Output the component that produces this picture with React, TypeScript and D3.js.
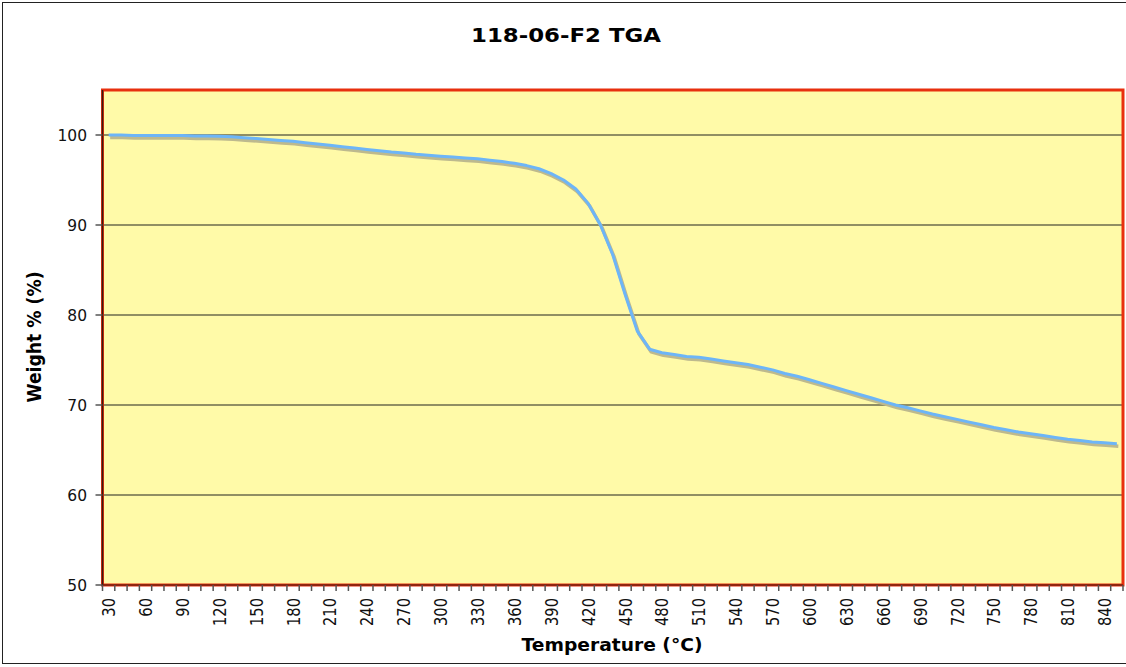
import React, { useEffect, useRef } from 'react';
import * as d3 from 'd3';

// temperature categories (°C), one point every 10 degrees
const temps = d3.range(30, 851, 10);

// weight %, one per temperature
const weights = [
  100.0, 100.0, 99.95, 99.95, 99.95, 99.95, 99.95, 99.9, 99.9, 99.85,
  99.8, 99.7, 99.6, 99.5, 99.4, 99.3, 99.15, 99.0, 98.85, 98.7,
  98.55, 98.4, 98.25, 98.1, 98.0, 97.85, 97.75, 97.65, 97.55, 97.45,
  97.35, 97.2, 97.05, 96.85, 96.6, 96.25, 95.7, 95.0, 94.0, 92.4,
  90.0, 86.7, 82.3, 78.2, 76.2, 75.8, 75.6, 75.4, 75.3, 75.1,
  74.9, 74.7, 74.5, 74.2, 73.9, 73.5, 73.2, 72.8, 72.4, 72.0,
  71.6, 71.2, 70.8, 70.4, 70.0, 69.7, 69.35, 69.0, 68.7, 68.4,
  68.1, 67.8, 67.5, 67.25, 67.0, 66.8, 66.6, 66.4, 66.2, 66.05,
  65.9, 65.8, 65.7,
];

const xTickLabels = [
  '30', '60', '90', '120', '150', '180', '210', '240', '270', '300',
  '330', '360', '390', '420', '450', '480', '510', '540', '570', '600',
  '630', '660', '690', '720', '750', '780', '810', '840',
];
const yTicks = [50, 60, 70, 80, 90, 100];

const App: React.FC = () => {
  const chartRef = useRef<SVGSVGElement>(null);

  useEffect(() => {
    const svg = d3.select(chartRef.current);
    svg.selectAll('*').remove();

    const W = 1126;
    const H = 667;
    const plot = { left: 102.5, right: 1123, top: 90, bottom: 585 };
    const font = "'DejaVu Sans', Verdana, sans-serif";

    svg.attr('width', W).attr('height', H);

    svg.append('rect').attr('width', W).attr('height', H).attr('fill', '#fff');
    // chart border, right edge falls off the picture
    svg
      .append('rect')
      .attr('x', 2.5)
      .attr('y', 2.5)
      .attr('width', 1135)
      .attr('height', 661)
      .attr('fill', 'none')
      .attr('stroke', '#222')
      .attr('stroke-width', 1);

    const data = temps.map((t, i) => ({ t: String(t), w: weights[i] }));

    const x = d3
      .scaleBand()
      .domain(data.map((d) => d.t))
      .range([plot.left, plot.right])
      .padding(0);
    const y = d3.scaleLinear().domain([50, 105]).range([plot.bottom, plot.top]);

    // plot area
    svg
      .append('rect')
      .attr('x', plot.left)
      .attr('y', plot.top)
      .attr('width', plot.right - plot.left)
      .attr('height', plot.bottom - plot.top)
      .attr('fill', '#fffaa8');

    // gridlines
    svg
      .append('g')
      .selectAll('line')
      .data(yTicks.filter((v) => v > 50))
      .join('line')
      .attr('x1', plot.left)
      .attr('x2', plot.right)
      .attr('y1', (d) => y(d))
      .attr('y2', (d) => y(d))
      .attr('stroke', '#6b6a4c')
      .attr('stroke-width', 1.5);

    const line = d3
      .line<{ t: string; w: number }>()
      .x((d) => (x(d.t) as number) + x.bandwidth() / 2)
      .y((d) => y(d.w));

    // shadow then series
    svg
      .append('path')
      .datum(data)
      .attr('d', line)
      .attr('transform', 'translate(1.5,2.5)')
      .attr('fill', 'none')
      .attr('stroke', '#bdb98e')
      .attr('stroke-width', 3.5)
      .attr('stroke-linejoin', 'round');
    svg
      .append('path')
      .datum(data)
      .attr('d', line)
      .attr('fill', 'none')
      .attr('stroke', '#6db5f7')
      .attr('stroke-width', 3)
      .attr('stroke-linejoin', 'round');

    // red border
    svg
      .append('rect')
      .attr('x', plot.left)
      .attr('y', plot.top)
      .attr('width', plot.right - plot.left)
      .attr('height', plot.bottom - plot.top)
      .attr('fill', 'none')
      .attr('stroke', '#e8300e')
      .attr('stroke-width', 3);

    // axis lines
    svg
      .append('line')
      .attr('x1', plot.left)
      .attr('x2', plot.left)
      .attr('y1', plot.top)
      .attr('y2', plot.bottom)
      .attr('stroke', '#3a1a10')
      .attr('stroke-width', 1.5);
    svg
      .append('line')
      .attr('x1', plot.left)
      .attr('x2', plot.right)
      .attr('y1', plot.bottom)
      .attr('y2', plot.bottom)
      .attr('stroke', '#3a1a10')
      .attr('stroke-width', 1);

    // y ticks and labels
    const gy = svg.append('g');
    gy.selectAll('line')
      .data(yTicks)
      .join('line')
      .attr('x1', plot.left - 7)
      .attr('x2', plot.left)
      .attr('y1', (d) => y(d))
      .attr('y2', (d) => y(d))
      .attr('stroke', '#555')
      .attr('stroke-width', 1.5);
    gy.selectAll('text')
      .data(yTicks)
      .join('text')
      .attr('x', 87)
      .attr('y', (d) => y(d) + 5.7)
      .attr('text-anchor', 'end')
      .attr('font-family', font)
      .attr('font-size', 15.5)
      .attr('fill', '#111')
      .text((d) => d);

    // x ticks at category boundaries
    const boundaries = d3.range(temps.length + 1).map((i) => plot.left + i * x.step());
    svg
      .append('g')
      .selectAll('line')
      .data(boundaries)
      .join('line')
      .attr('x1', (d) => d)
      .attr('x2', (d) => d)
      .attr('y1', plot.bottom)
      .attr('y2', plot.bottom + 6)
      .attr('stroke', '#555')
      .attr('stroke-width', 1.5);

    svg
      .append('g')
      .selectAll('text')
      .data(xTickLabels)
      .join('text')
      .attr(
        'transform',
        (d) =>
          `translate(${(x(d) as number) + x.bandwidth() / 2 + 6.5},598) scale(1.21,1) rotate(-90)`
      )
      .attr('text-anchor', 'end')
      .attr('font-family', font)
      .attr('font-size', 14.7)
      .attr('fill', '#111')
      .text((d) => d);

    // titles
    svg
      .append('text')
      .attr('x', 566)
      .attr('y', 42)
      .attr('text-anchor', 'middle')
      .attr('font-family', font)
      .attr('font-weight', 'bold')
      .attr('font-size', 20)
      .attr('textLength', 190)
      .attr('lengthAdjust', 'spacingAndGlyphs')
      .text('118-06-F2 TGA');

    svg
      .append('text')
      .attr('x', 612)
      .attr('y', 651)
      .attr('text-anchor', 'middle')
      .attr('font-family', font)
      .attr('font-weight', 'bold')
      .attr('font-size', 17)
      .attr('textLength', 181)
      .attr('lengthAdjust', 'spacingAndGlyphs')
      .text('Temperature (°C)');

    svg
      .append('text')
      .attr('transform', 'translate(41,337) scale(1.2,1) rotate(-90)')
      .attr('text-anchor', 'middle')
      .attr('font-family', font)
      .attr('font-weight', 'bold')
      .attr('font-size', 16.5)
      .attr('textLength', 131)
      .attr('lengthAdjust', 'spacingAndGlyphs')
      .text('Weight % (%)');
  }, []);

  return (
    <div style={{ position: 'absolute', left: 0, top: 0 }}>
      <svg ref={chartRef}></svg>
    </div>
  );
};

export default App;
